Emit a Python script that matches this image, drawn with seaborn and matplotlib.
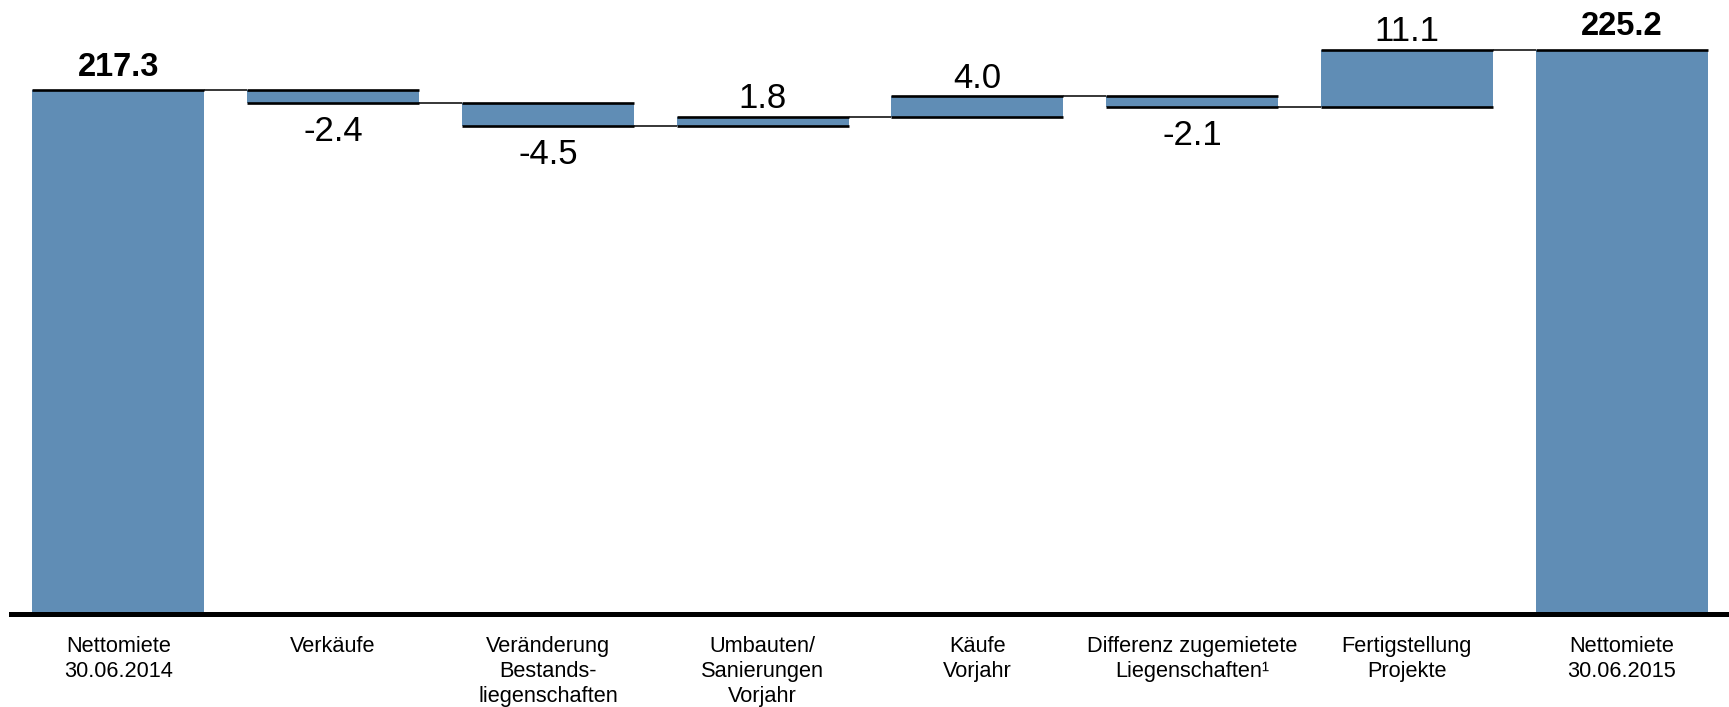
import numpy as np
import pandas as pd
import matplotlib
matplotlib.use("Agg")
import matplotlib.pyplot as plt
import seaborn as sns

# Net rent bridge, H1 2014 -> H1 2015 (CHF m)
categories = [
    "Nettomiete\n30.06.2014",
    "Verkäufe",
    "Veränderung\nBestands-\nliegenschaften",
    "Umbauten/\nSanierungen\nVorjahr",
    "Käufe\nVorjahr",
    "Differenz zugemietete\nLiegenschaften\u00b9",
    "Fertigstellung\nProjekte",
    "Nettomiete\n30.06.2015",
]
start_value = 217.3
deltas = [-2.4, -4.5, 1.8, 4.0, -2.1, 11.1]
end_value = 225.2
value_labels = ["217.3", "-2.4", "-4.5", "1.8", "4.0", "-2.1", "11.1", "225.2"]

BAR_COLOR = "#608DB5"

sns.set_theme(style="white")
plt.rcParams["font.family"] = ["Liberation Sans", "DejaVu Sans"]

# running levels of the bridge
levels = np.concatenate([[start_value], start_value + np.cumsum(deltas)])
bottoms = [0.0] + [min(levels[i], levels[i + 1]) for i in range(len(deltas))] + [0.0]
heights = [start_value] + [abs(d) for d in deltas] + [end_value]
tops = [b + h for b, h in zip(bottoms, heights)]

df = pd.DataFrame({"Kategorie": categories, "Wert": heights})

fig = plt.figure(figsize=(17.29, 7.07), dpi=100)
ax = fig.add_axes([11 / 1729, 93 / 707, 1 - 11 / 1729, 1 - 93 / 707])

sns.barplot(
    data=df, x="Kategorie", y="Wert", order=categories,
    color=BAR_COLOR, saturation=1, width=0.8, errorbar=None,
    bottom=bottoms, linewidth=0, ax=ax,
)

# truncated value axis: only the upper band of the bars is of interest
ax.set_ylim(115.4, 234.9)
ax.set_xlim(-0.5, 7.5)

half = 0.4
n = len(categories)
xs = np.arange(n)

# heavy edges on each bar's level lines
for i in range(n):
    if i in (0, n - 1):
        ax.hlines(tops[i], i - half, i + half, color="black", lw=1.9, zorder=4)
    else:
        ax.hlines([bottoms[i], tops[i]], i - half, i + half, color="black", lw=1.9, zorder=4)

# connectors between consecutive bars
for i in range(n - 1):
    ax.hlines(levels[i], i + half, i + 1 - half, color="black", lw=1.1, zorder=4)

# value labels
for i in range(n):
    total = i in (0, n - 1)
    if total:
        ax.annotate(value_labels[i], (i, tops[i]), xytext=(0, 5.5), textcoords="offset points",
                    ha="center", va="bottom", fontsize=23.5, fontweight="bold", color="black")
    elif deltas[i - 1] >= 0:
        ax.annotate(value_labels[i], (i, tops[i]), xytext=(0, 1), textcoords="offset points",
                    ha="center", va="bottom", fontsize=25, color="black")
    else:
        ax.annotate(value_labels[i], (i, bottoms[i]), xytext=(0, -9), textcoords="offset points",
                    ha="center", va="top", fontsize=25, color="black")

ax.set_xlabel("")
ax.set_ylabel("")
ax.set_yticks([])
ax.set_xticks(xs)
ax.set_xticklabels(categories, fontsize=15.7, linespacing=1.25, color="black")
ax.tick_params(axis="x", length=0, pad=15.5)

for side in ("top", "left", "right"):
    ax.spines[side].set_visible(False)
ax.spines["bottom"].set_color("black")
ax.spines["bottom"].set_linewidth(3.6)
ax.set_facecolor("white")
fig.patch.set_facecolor("white")

fig.savefig("out.png", dpi=100, facecolor="white")
